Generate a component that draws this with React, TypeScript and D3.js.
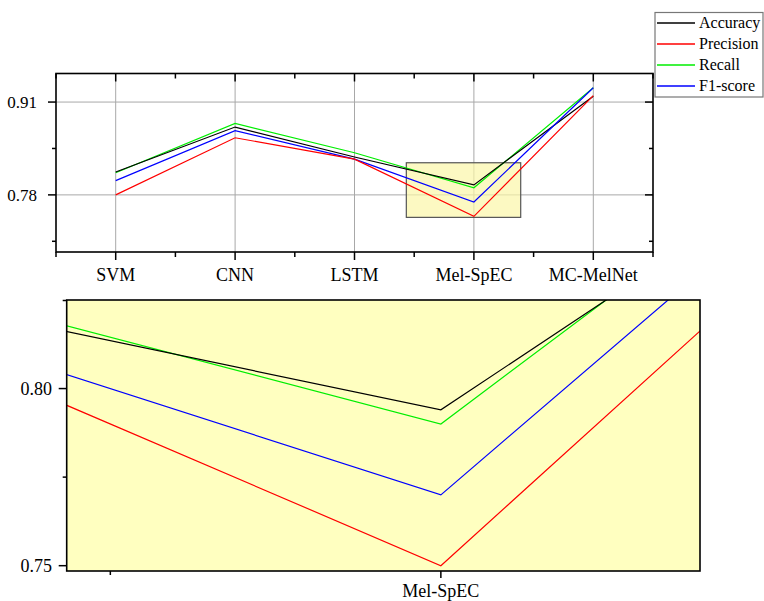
import React from 'react';
import * as d3 from 'd3';

const categories = ['SVM', 'CNN', 'LSTM', 'Mel-SpEC', 'MC-MelNet'];
const accuracy = [0.812, 0.875, 0.833, 0.794, 0.918];
const precision = [0.780, 0.860, 0.830, 0.750, 0.919];
const recall = [0.811, 0.880, 0.839, 0.790, 0.930];
const f1score = [0.800, 0.870, 0.830, 0.770, 0.930];

const seriesNames = ['Accuracy', 'Precision', 'Recall', 'F1-score'];
const seriesColors = ['#000000', '#ff0000', '#00ee00', '#0000ff'];
const seriesValues = [accuracy, precision, recall, f1score];

const mainYTicks = [0.78, 0.91];
const mainYMinor = [0.715, 0.845];
const zoomYTicks = [0.75, 0.8];
const zoomYMinor = [0.775];

// zoomed window (category index units / value units)
const zoomX = [2.434, 3.392];
const zoomY = [0.7485, 0.825];

const FONT = "'Liberation Serif', 'Times New Roman', Times, serif";

const App = () => {
  const W = 764;
  const H = 601;

  // top chart
  const x = d3.scaleLinear().domain([-0.5, 4.5]).range([56, 653]);
  const y = d3.scaleLinear().domain([0.70, 0.95]).range([252, 73.5]);
  // inset
  const zx = d3.scaleLinear().domain(zoomX).range([66.7, 700]);
  const zy = d3.scaleLinear().domain(zoomY).range([571, 300]);

  const line = (sx, sy) =>
    d3.line<number>()
      .x((d, i) => sx(i))
      .y((d) => sy(d));

  const mainLine = line(x, y);
  const zoomLine = line(zx, zy);

  const minorX = d3.range(-0.5, 4.6, 1);
  const idx = d3.range(categories.length);
  const txt = { fontFamily: FONT };

  return (
    <svg width={W} height={H} style={{ position: 'absolute', left: 0, top: 0, background: '#fff', fontFamily: FONT }}>
      <defs>
        <clipPath id="zclip">
          <rect x={zx(zoomX[0])} y={zy(zoomY[1])} width={zx(zoomX[1]) - zx(zoomX[0])} height={zy(zoomY[0]) - zy(zoomY[1])} />
        </clipPath>
        <clipPath id="mclip">
          <rect x={x(-0.5)} y={y(0.95)} width={x(4.5) - x(-0.5)} height={y(0.70) - y(0.95)} />
        </clipPath>
      </defs>

      {/* ---- top chart ---- */}
      <g>
        {idx.map((i) => (
          <line key={'vg' + i} x1={x(i)} x2={x(i)} y1={y(0.95)} y2={y(0.70)} stroke="#a8a8a8" strokeWidth={1} />
        ))}
        {mainYTicks.map((t) => (
          <line key={'hg' + t} x1={x(-0.5)} x2={x(4.5)} y1={y(t)} y2={y(t)} stroke="#a8a8a8" strokeWidth={1} />
        ))}
        <rect x={x(zoomX[0])} y={y(zoomY[1])} width={x(zoomX[1]) - x(zoomX[0])} height={y(zoomY[0]) - y(zoomY[1])}
          fill="#fbf6a8" fillOpacity={0.7} stroke="#555" strokeWidth={1.2} />
        <g clipPath="url(#mclip)">
          {[2, 0, 3, 1].map((s) => (
            <path key={'ml' + s} d={mainLine(seriesValues[s]) || ''} fill="none" stroke={seriesColors[s]} strokeWidth={1.2} />
          ))}
        </g>
        {/* ticks */}
        {idx.map((i) => (
          <g key={'xt' + i}>
            <line x1={x(i)} x2={x(i)} y1={y(0.70)} y2={y(0.70) + 8} stroke="#000" strokeWidth={1.5} />
            <line x1={x(i)} x2={x(i)} y1={y(0.95)} y2={y(0.95) + 8} stroke="#000" strokeWidth={1.5} />
            <text x={x(i)} y={281} textAnchor="middle" fontSize={18} fill="#000" style={txt}>{categories[i]}</text>
          </g>
        ))}
        {minorX.map((m) => (
          <g key={'xm' + m}>
            <line x1={x(m)} x2={x(m)} y1={y(0.70)} y2={y(0.70) + 5} stroke="#000" strokeWidth={1.5} />
            <line x1={x(m)} x2={x(m)} y1={y(0.95)} y2={y(0.95) + 5} stroke="#000" strokeWidth={1.5} />
          </g>
        ))}
        {mainYTicks.map((t) => (
          <g key={'yt' + t}>
            <line x1={x(-0.5) - 8} x2={x(-0.5)} y1={y(t)} y2={y(t)} stroke="#000" strokeWidth={1.5} />
            <line x1={x(4.5) - 8} x2={x(4.5)} y1={y(t)} y2={y(t)} stroke="#000" strokeWidth={1.5} />
            <text x={37} y={y(t) + 6} textAnchor="end" fontSize={17} fill="#000" style={txt}>{d3.format('.2f')(t)}</text>
          </g>
        ))}
        {mainYMinor.map((t) => (
          <g key={'ym' + t}>
            <line x1={x(-0.5) - 4} x2={x(-0.5)} y1={y(t)} y2={y(t)} stroke="#000" strokeWidth={1.5} />
            <line x1={x(4.5) - 4} x2={x(4.5)} y1={y(t)} y2={y(t)} stroke="#000" strokeWidth={1.5} />
          </g>
        ))}
        <rect x={x(-0.5)} y={y(0.95)} width={x(4.5) - x(-0.5)} height={y(0.70) - y(0.95)} fill="none" stroke="#000" strokeWidth={1.6} />
      </g>

      {/* ---- legend ---- */}
      <g>
        <rect x={655} y={12.5} width={108} height={84.5} fill="#fff" stroke="#777" strokeWidth={1.2} />
        {seriesNames.map((n, i) => (
          <g key={'lg' + n}>
            <line x1={657} x2={695} y1={23 + i * 21} y2={23 + i * 21} stroke={seriesColors[i]} strokeWidth={1.3} />
            <text x={699} y={23 + i * 21 + 5} fontSize={16} fill="#000" style={txt}>{n}</text>
          </g>
        ))}
      </g>

      {/* ---- zoom inset ---- */}
      <g>
        <rect x={zx(zoomX[0])} y={zy(zoomY[1])} width={zx(zoomX[1]) - zx(zoomX[0])} height={zy(zoomY[0]) - zy(zoomY[1])}
          fill="#ffffc0" />
        <g clipPath="url(#zclip)">
          {[2, 0, 3, 1].map((s) => (
            <path key={'zl' + s} d={zoomLine(seriesValues[s]) || ''} fill="none" stroke={seriesColors[s]} strokeWidth={1.2} />
          ))}
        </g>
        <line x1={zx(3)} x2={zx(3)} y1={zy(zoomY[0])} y2={zy(zoomY[0]) + 7} stroke="#000" strokeWidth={1.5} />
        <line x1={zx(2.5)} x2={zx(2.5)} y1={zy(zoomY[0])} y2={zy(zoomY[0]) + 4} stroke="#000" strokeWidth={1.5} />
        <text x={zx(3)} y={597} textAnchor="middle" fontSize={18} fill="#000" style={txt}>{categories[3]}</text>
        {zoomYTicks.map((t) => (
          <g key={'zyt' + t}>
            <line x1={zx(zoomX[0]) - 8} x2={zx(zoomX[0])} y1={zy(t)} y2={zy(t)} stroke="#000" strokeWidth={1.5} />
            <text x={52} y={zy(t) + 6} textAnchor="end" fontSize={18} fill="#000" style={txt}>{d3.format('.2f')(t)}</text>
          </g>
        ))}
        {zoomYMinor.map((t) => (
          <line key={'zym' + t} x1={zx(zoomX[0]) - 4} x2={zx(zoomX[0])} y1={zy(t)} y2={zy(t)} stroke="#000" strokeWidth={1.5} />
        ))}
        <line x1={zx(zoomX[0]) - 4} x2={zx(zoomX[0])} y1={zy(zoomY[1]) + 0.5} y2={zy(zoomY[1]) + 0.5} stroke="#000" strokeWidth={1.5} />
        <rect x={zx(zoomX[0])} y={zy(zoomY[1])} width={zx(zoomX[1]) - zx(zoomX[0])} height={zy(zoomY[0]) - zy(zoomY[1])}
          fill="none" stroke="#000" strokeWidth={1.6} />
      </g>
    </svg>
  );
};

export default App;
